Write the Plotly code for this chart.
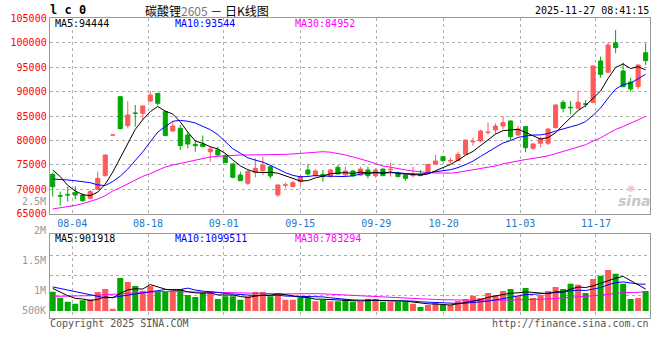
import plotly.graph_objects as go

# ---------------- data ----------------
date_labels = ["08-04", "08-18", "09-01", "09-15", "09-29", "10-20", "11-03", "11-17"]

open_ = [73060, 68700, 68950, 69310, 68830, 68150, 69990, 72790, 81110, 88960,
         83020, 85600, 85550, 88070, 89640, 85890, 81930, 82480, 81110, 79200,
         79270, 77700, 78040, 76880, 75180, 72920, 71220, 73470, 73810, 74630,
         68830, 70800, 70540, 71560, 73950, 72790, 73060, 72580, 74490, 72920,
         73740, 72920, 73950, 72790, 74150, 74000, 73270, 72920, 72800, 73060,
         73270, 75110, 76680, 75800, 75860, 77150, 79700, 79880, 81600, 82140,
         82950, 83980, 81110, 82820, 78380, 79410, 79410, 82610, 87800, 86800,
         86570, 87500, 87800, 96260, 93940, 100010, 94210, 91960, 91000, 97960]
high = [73400, 69510, 70540, 70670, 69170, 69850, 73610, 77100, 81110, 89000,
        88070, 87250, 87100, 90120, 89700, 86100, 83840, 83160, 81790, 80090,
        80980, 78720, 78720, 77360, 75310, 73610, 74150, 76340, 76680, 74970,
        71010, 71420, 71700, 72920, 75180, 74150, 73950, 74150, 74970, 74630,
        73950, 74630, 74630, 74290, 74200, 75450, 73610, 73060, 74630, 73950,
        75150, 77020, 76750, 76470, 77700, 80150, 80570, 82140, 83640, 83500,
        85000, 84100, 82950, 82950, 79410, 80770, 82480, 87390, 88280, 88070,
        90120, 88280, 95300, 97150, 100080, 102600, 95920, 92850, 95580, 99870]
low = [68490, 66650, 67470, 67940, 67470, 67940, 69850, 72600, 81110, 82300,
       82480, 82820, 84180, 87800, 87120, 80900, 81790, 78040, 78380, 77700,
       78700, 75650, 76900, 75400, 72240, 71700, 70880, 72450, 72920, 72240,
       68490, 70200, 70330, 70740, 72790, 72580, 71560, 72450, 73100, 72720,
       72580, 72720, 72240, 72380, 72700, 72580, 72500, 71760, 72450, 72700,
       73200, 75000, 75650, 75310, 75800, 77020, 78930, 79610, 81250, 81320,
       82270, 80090, 80980, 77560, 78040, 78590, 79060, 82480, 85750, 85340,
       86430, 86780, 87590, 92850, 93800, 97830, 90900, 89980, 90530, 95440]
close = [70540, 68600, 68850, 68830, 67670, 69510, 72240, 77020, 81110, 82410,
         85210, 85550, 87050, 89300, 87590, 80980, 82950, 78930, 79270, 78930,
         78720, 78250, 77020, 75450, 72450, 71760, 73610, 74290, 74970, 72720,
         70880, 70900, 71360, 72580, 73130, 73740, 72580, 73950, 73130, 73740,
         72720, 74150, 72790, 73950, 72790, 74100, 72580, 72240, 72900, 72790,
         75110, 75790, 75860, 75900, 77150, 80090, 79800, 81930, 81700, 82950,
         83640, 80770, 82340, 78520, 79270, 80430, 82340, 87250, 86570, 86700,
         87800, 87400, 95240, 93530, 99530, 98990, 91000, 90530, 95440, 96330]

ma5 = [73950, 72600, 70800, 69650, 68900, 68700, 69420, 71050, 73510, 76460,
       79600, 82260, 84260, 85900, 86940, 86000, 85400, 83800, 81700, 79900,
       79400, 78700, 78250, 77350, 76000, 74800, 74000, 73510, 73420, 73470,
       73290, 72750, 72160, 71690, 71770, 72340, 72680, 73200, 73300, 73430,
       73220, 73540, 73310, 73470, 73280, 73560, 73240, 73130, 72920, 72920,
       73120, 73770, 74490, 75090, 75960, 76960, 77760, 78970, 80130, 81290,
       82000, 82200, 82280, 81640, 80910, 80270, 80580, 81560, 83170, 84660,
       86130, 87140, 88740, 90130, 92700, 94940, 95660, 94720, 95100, 94444]
ma10 = [72100, 72050, 71900, 71750, 71550, 71350, 70900, 70750, 71600, 72680,
        74140, 75840, 77660, 79710, 81700, 82840, 83920, 84110, 83920, 83570,
        82930, 82200, 81190, 79810, 78290, 77370, 76440, 75970, 75540, 74920,
        74140, 73400, 72840, 72550, 72620, 72820, 72710, 72680, 72500, 72600,
        72780, 73110, 73250, 73390, 73350, 73390, 73390, 73220, 73200, 73100,
        73340, 73500, 73810, 74000, 74440, 75040, 75760, 76730, 77610, 78630,
        79480, 79980, 80630, 80890, 81100, 81140, 81390, 81920, 82410, 82780,
        83200, 83860, 85150, 86650, 88680, 90530, 91400, 91730, 92620, 93544]
ma30 = [65960, 66170, 66370, 66710, 67060, 67530, 68010, 68690, 69650, 70330,
        71150, 71900, 72650, 73200, 73880, 74560, 74970, 75310, 75650, 75990,
        76340, 76610, 76740, 76880, 76950, 77020, 77020, 77020, 77040, 77060,
        77070, 77150, 77230, 77360, 77540, 77680, 77690, 77590, 77320, 77030,
        76620, 76240, 75760, 75250, 74760, 74530, 74180, 73960, 73750, 73540,
        73420, 73340, 73300, 73310, 73470, 73750, 73960, 74210, 74430, 74780,
        75200, 75530, 75900, 76090, 76300, 76520, 76850, 77290, 77740, 78170,
        78670, 79120, 79860, 80520, 81410, 82240, 82850, 83460, 84210, 84952]

# volume in thousands of lots
volume_k = [795, 548, 384, 301, 438, 480, 781, 904, 96, 1356,
            1192, 1028, 836, 1028, 795, 795, 795, 904, 658, 575,
            754, 822, 493, 603, 603, 466, 603, 781, 781, 603,
            740, 466, 466, 548, 548, 397, 466, 397, 397, 480,
            384, 384, 493, 493, 384, 384, 384, 384, 301, 164,
            247, 329, 247, 247, 411, 493, 630, 534, 740, 658,
            822, 904, 603, 945, 534, 658, 822, 986, 904, 1123,
            1082, 740, 1315, 1452, 1685, 1534, 1123, 493, 534, 822]
vol_up = [0, 0, 0, 0, 0, 1, 1, 1, 1, 0,
          1, 0, 1, 1, 0, 0, 1, 0, 0, 0,
          0, 1, 0, 0, 0, 0, 1, 1, 1, 0,
          1, 1, 1, 0, 0, 1, 0, 1, 0, 0,
          0, 1, 0, 1, 0, 1, 0, 0, 1, 0,
          1, 1, 0, 1, 1, 1, 1, 1, 1, 1,
          1, 0, 1, 0, 1, 1, 1, 1, 0, 0,
          1, 0, 1, 0, 1, 0, 0, 0, 1, 0]
vma5 = [930, 770, 630, 520, 493, 430, 477, 581, 540, 723,
        866, 915, 902, 1088, 976, 896, 850, 863, 789, 745,
        737, 743, 660, 649, 655, 597, 554, 611, 647, 647,
        702, 674, 611, 565, 554, 485, 485, 471, 441, 427,
        425, 408, 428, 447, 428, 428, 428, 406, 367, 323,
        296, 285, 258, 247, 296, 345, 406, 463, 562, 611,
        677, 732, 745, 786, 762, 729, 712, 789, 781, 899,
        983, 967, 1033, 1142, 1255, 1345, 1422, 1257, 1074, 901.918]
vma10 = [990, 930, 870, 800, 740, 680, 610, 540, 560, 608,
         648, 696, 741, 814, 850, 881, 883, 883, 939, 861,
         817, 796, 762, 719, 700, 667, 648, 636, 648, 651,
         650, 614, 611, 606, 600, 593, 580, 541, 503, 491,
         455, 447, 449, 444, 428, 426, 418, 417, 407, 376,
         362, 356, 332, 307, 310, 321, 345, 360, 404, 454,
         511, 569, 604, 674, 686, 703, 722, 767, 784, 830,
         856, 840, 911, 962, 1077, 1164, 1194, 1145, 1108, 1099.511]
vma30 = [600, 600, 600, 605, 615, 630, 650, 670, 690, 710,
         735, 755, 770, 785, 795, 800, 800, 795, 790, 785,
         775, 770, 765, 755, 745, 735, 725, 715, 710, 707,
         705, 702, 705, 713, 717, 714, 704, 687, 697, 668,
         641, 619, 607, 590, 576, 562, 549, 531, 519, 506,
         489, 472, 464, 452, 446, 447, 448, 439, 438, 440,
         443, 457, 462, 475, 475, 483, 495, 515, 532, 553,
         576, 588, 616, 648, 691, 729, 754, 757, 765, 783.294]

title_name = "碳酸锂"
title_code = "2605"
title_tail = "日K线图"
symbol = "l c 0"
stamp = "2025-11-27 08:41:15"
vol_axis_labels = ["2.5M", "2M", "1.5M", "1M", "500K"]

# ---------------- styling / layout ----------------
W, H = 660, 360
RED = "#ff5a5a"
GREEN = "#00a800"
GRID = "#b0b0b0"
BORDER = "#9a9a9a"
MONO = "DejaVu Sans Mono"

def px(x):
    return x / W

def py(y):
    return (H - y) / H

idx = list(range(len(close)))
grid_pos = [2.61, 12.70, 22.78, 32.99, 43.11, 52.09, 62.30, 72.38]
x_range = [-0.40, 79.58]
x_dom = [px(49.7), px(650)]

fig = go.Figure()
fig.add_trace(go.Candlestick(
    x=idx, open=open_, high=high, low=low, close=close,
    increasing=dict(line=dict(color=RED, width=1), fillcolor=RED),
    decreasing=dict(line=dict(color=GREEN, width=1), fillcolor=GREEN),
    whiskerwidth=0, showlegend=False, hoverinfo="skip",
    xaxis="x", yaxis="y"))
for series, col in ((ma30, "#ff00ff"), (ma10, "#0000ff"), (ma5, "#000000")):
    fig.add_trace(go.Scatter(x=idx, y=series, mode="lines",
                             line=dict(color=col, width=1),
                             showlegend=False, hoverinfo="skip",
                             xaxis="x", yaxis="y"))

fig.add_trace(go.Bar(x=idx, y=volume_k,
                     marker=dict(color=[RED if u else GREEN for u in vol_up],
                                 line=dict(width=0)),
                     showlegend=False, hoverinfo="skip",
                     xaxis="x2", yaxis="y2"))
for series, col in ((vma30, "#ff00ff"), (vma10, "#0000ff"), (vma5, "#000000")):
    fig.add_trace(go.Scatter(x=idx, y=series, mode="lines",
                             line=dict(color=col, width=1),
                             showlegend=False, hoverinfo="skip",
                             xaxis="x2", yaxis="y2"))

common_x = dict(domain=x_dom, range=x_range, tickvals=grid_pos,
                showgrid=True, gridcolor=GRID, griddash="dot", gridwidth=1,
                showline=True, mirror=True, linecolor=BORDER, linewidth=1,
                ticks="", zeroline=False, fixedrange=True, automargin=False)

fig.update_layout(
    width=W, height=H, autosize=False,
    margin=dict(l=0, r=0, t=0, b=0, pad=0),
    paper_bgcolor="white", plot_bgcolor="white",
    boxgap=0.22, bargap=0.2,
    showlegend=False,
    xaxis=dict(**common_x, anchor="y", ticktext=date_labels,
               tickfont=dict(family=MONO, size=10, color="#1e78c8"),
               rangeslider=dict(visible=False)),
    yaxis=dict(domain=[py(213.7), py(18.3)], range=[65000, 105000],
               tick0=65000, dtick=5000, anchor="x", tickformat="d",
               showgrid=True, gridcolor=GRID, griddash="dot",
               showline=True, mirror=True, linecolor=BORDER, linewidth=1,
               ticks="", zeroline=False, fixedrange=True, automargin=False,
               tickfont=dict(family=MONO, size=10, color="#ff0000")),
    xaxis2=dict(**common_x, anchor="y2", matches="x", showticklabels=False),
    yaxis2=dict(domain=[py(318.3), py(234.3)], range=[-300.8, 3153],
                tickvals=[637, 1459, 2281], showticklabels=False, anchor="x2",
                showgrid=True, gridcolor=GRID, griddash="dot",
                showline=True, mirror=True, linecolor=BORDER, linewidth=1,
                ticks="", zeroline=False, fixedrange=True, automargin=False),
)

ann = []
def text(x, y, s, color="#000", size=10, anchor="left", family=MONO, **kw):
    ann.append(dict(x=px(x), y=py(y), xref="paper", yref="paper", text=s,
                    showarrow=False, xanchor=anchor, yanchor="middle",
                    font=dict(family=family, size=size, color=color),
                    borderpad=0, **kw))

text(49, 10, "<b>" + symbol + "</b>", size=12)
text(207, 10, title_name + "<span style='color:#777'>" + title_code + "</span> － " + title_tail,
     size=12, anchor="center", family="Noto Sans CJK SC")
text(650, 10, stamp, anchor="right")

text(53.5, 24, "MA5:%d" % ma5[-1])
text(173.5, 24, "MA10:%d" % ma10[-1], color="#0000ff")
text(294, 24, "MA30:%d" % ma30[-1], color="#ff00ff")

text(53.5, 238, "MA5:%d" % round(vma5[-1] * 1000))
text(173.5, 238, "MA10:%d" % round(vma10[-1] * 1000), color="#0000ff")
text(294, 238, "MA30:%d" % round(vma30[-1] * 1000), color="#ff00ff")

for lab, yy in zip(vol_axis_labels, [201, 231, 260.7, 290.7, 310.7]):
    text(47, yy, lab, color="#999999", anchor="right")

text(49, 323.5, "Copyright 2025 SINA.COM", color="#555555")
text(650, 323.5, "http://finance.sina.com.cn", color="#555555", anchor="right")

text(634, 201, "<b><i>sina</i></b>", color="#c8c8c8", size=14, anchor="center",
     family="DejaVu Sans")
text(631, 188, "◉", color="#f5c0c0", size=9, anchor="center", family="DejaVu Sans")

fig.update_layout(annotations=ann)
fig.write_html("out.html", config={"displayModeBar": False, "staticPlot": True},
               post_script="document.body.style.margin='0';")
